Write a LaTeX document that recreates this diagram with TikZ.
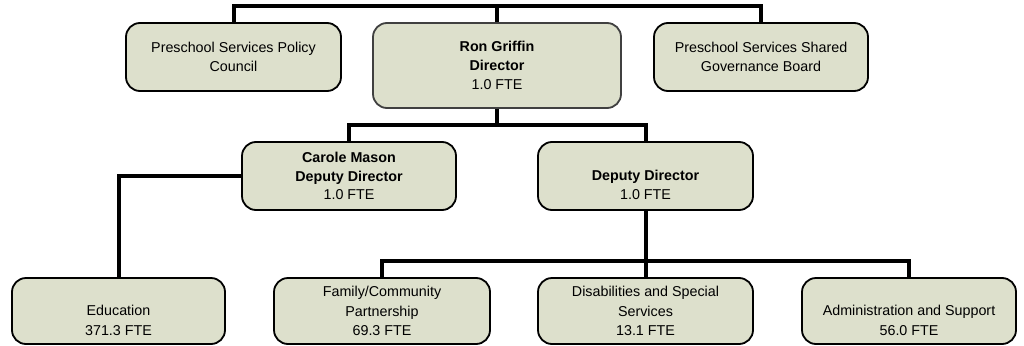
\documentclass[tikz,border=0pt]{standalone}
\usepackage{fontspec}
\setmainfont{Liberation Sans}
\definecolor{boxfill}{RGB}{221,224,204}
\definecolor{ronedge}{RGB}{64,64,64}
\newcommand{\blankline}{\vphantom{Ag}}
\begin{document}
\begin{tikzpicture}[x=1pt,y=-1pt,
  orgbox/.style={draw=black, line width=1.8pt, fill=boxfill, rounded corners=14pt,
    align=center, inner sep=0pt, font=\fontsize{14.3pt}{18.7pt}\selectfont},
  lowbox/.style={orgbox, font=\fontsize{14.3pt}{19.2pt}\selectfont},
  conn/.style={draw=black, line width=4pt}]
\useasboundingbox (0,0) rectangle (1024,345);
% top row
\node[orgbox, minimum width=215pt, minimum height=68pt] (policy) at (233.5,57) {Preschool Services Policy\\Council};
\node[orgbox, draw=ronedge, minimum width=248pt, minimum height=85pt] (ron) at (497,65.5) {\textbf{Ron Griffin}\\\textbf{Director}\\1.0 FTE};
\node[orgbox, minimum width=214pt, minimum height=68pt] (shared) at (761,57) {Preschool Services Shared\\Governance Board};
% middle row
\node[orgbox, minimum width=214pt, minimum height=68pt] (carole) at (349,176) {\textbf{Carole Mason}\\\textbf{Deputy Director}\\1.0 FTE};
\node[orgbox, minimum width=215pt, minimum height=68pt] (deputy) at (645.5,176) {\blankline\\\textbf{Deputy Director}\\1.0 FTE};
% bottom row
\node[lowbox, minimum width=213pt, minimum height=66pt] (edu) at (118.5,311) {\blankline\\Education\\371.3 FTE};
\node[lowbox, minimum width=216pt, minimum height=66pt] (family) at (382,311) {Family/Community\\Partnership\\69.3 FTE};
\node[lowbox, minimum width=215pt, minimum height=66pt] (disab) at (645.5,311) {Disabilities and Special\\Services\\13.1 FTE};
\node[lowbox, minimum width=214pt, minimum height=66pt] (admin) at (909,311) {\blankline\\Administration and Support\\56.0 FTE};
% connectors
\coordinate (topbar) at (497,6);
\coordinate (midbar) at (497,125);
\coordinate (lowbar) at (645.5,261);
\draw[conn] (policy.north) |- (topbar) -| (shared.north);
\draw[conn] (ron.north) -- (topbar);
\draw[conn] (ron.south) -- (midbar);
\draw[conn] (carole.north) |- (midbar) -| (deputy.north);
\draw[conn] (carole.west) -| (edu.north);
\draw[conn] (deputy.south) -- (disab.north);
\draw[conn] (family.north) |- (lowbar) -| (admin.north);
\end{tikzpicture}
\end{document}
